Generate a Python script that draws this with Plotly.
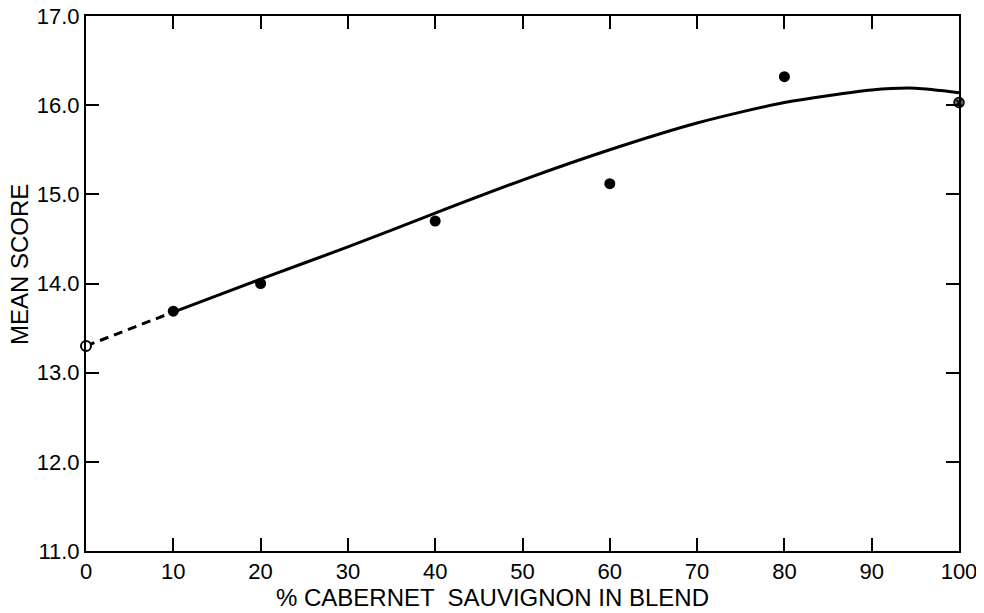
import plotly.graph_objects as go

# Observed mean scores
blend_pct = [10, 20, 40, 60, 80]
mean_score = [13.69, 14.00, 14.70, 15.12, 16.32]

# Pure Cabernet point (hatched marker) and extrapolated 0% point (open marker)
pure_pct = [100]
pure_score = [16.03]
zero_pct = [0]
zero_score = [13.30]

# Fitted curve
curve_pct = [10, 20, 30, 40, 50, 60, 70, 80, 90, 95, 100]
curve_score = [13.68, 14.05, 14.41, 14.79, 15.16, 15.50, 15.80, 16.03, 16.17, 16.19, 16.14]

# Dashed extrapolation
dash_pct = [0, 10]
dash_score = [13.30, 13.68]

x_ticks = [0, 10, 20, 30, 40, 50, 60, 70, 80, 90, 100]
x_tick_text = ["0", "10", "20", "30", "40", "50", "60", "70", "80", "90", "100"]
y_ticks = [11, 12, 13, 14, 15, 16, 17]
y_tick_text = ["11.0", "12.0", "13.0", "14.0", "15.0", "16.0", "17.0"]

FONT = "Liberation Sans"

# The page body has an 8px default margin; compensate so the plot lands where the reference has it.
OFF = 8
W, H = 984 - OFF, 613 - OFF
L, T, R, B = 86 - OFF, 16 - OFF, 25, 62
PW, PH = W - L - R, H - T - B

fig = go.Figure()
fig.add_trace(go.Scatter(x=dash_pct, y=dash_score, mode="lines",
                         line=dict(color="black", width=3, dash="9px,6px"),
                         showlegend=False, hoverinfo="skip"))
fig.add_trace(go.Scatter(x=curve_pct, y=curve_score, mode="lines",
                         line=dict(color="black", width=3, shape="spline", smoothing=0.7),
                         showlegend=False))
fig.add_trace(go.Scatter(x=blend_pct, y=mean_score, mode="markers",
                         marker=dict(color="black", size=11, symbol="circle"),
                         showlegend=False))
fig.add_trace(go.Scatter(x=pure_pct, y=pure_score, mode="markers",
                         marker=dict(color="#666666", size=10, symbol="circle-x",
                                     line=dict(color="black", width=1.5)),
                         showlegend=False, cliponaxis=False))
fig.add_trace(go.Scatter(x=zero_pct, y=zero_score, mode="markers",
                         marker=dict(color="white", size=10, symbol="circle",
                                     line=dict(color="black", width=2)),
                         showlegend=False, cliponaxis=False))

axis_common = dict(showgrid=False, zeroline=False, showline=True, linecolor="black",
                   linewidth=2, mirror="ticks", ticks="inside", ticklen=13,
                   tickwidth=2, tickcolor="black", automargin=False,
                   ticklabeloverflow="allow",
                   tickfont=dict(family=FONT, size=22, color="black"))

fig.update_xaxes(range=[0, 100], tickvals=x_ticks, ticktext=x_tick_text, **axis_common)
fig.update_yaxes(range=[11, 17], tickvals=y_ticks, ticktext=y_tick_text, **axis_common)

fig.update_layout(
    width=W, height=H,
    margin=dict(l=L, r=R, t=T, b=B),
    paper_bgcolor="white", plot_bgcolor="white",
    annotations=[
        dict(text="% CABERNET  SAUVIGNON IN BLEND", xref="paper", yref="paper",
             x=(492 - 86) / PW, y=-(597 - 551) / PH, showarrow=False,
             xanchor="center", yanchor="middle",
             font=dict(family=FONT, size=24, color="black")),
        dict(text="MEAN SCORE", xref="paper", yref="paper",
             x=-(86 - 19) / PW, y=(551 - 265) / PH, showarrow=False, textangle=-90,
             xanchor="center", yanchor="middle",
             font=dict(family=FONT, size=24, color="black")),
    ],
)

fig.write_html("out.html")
